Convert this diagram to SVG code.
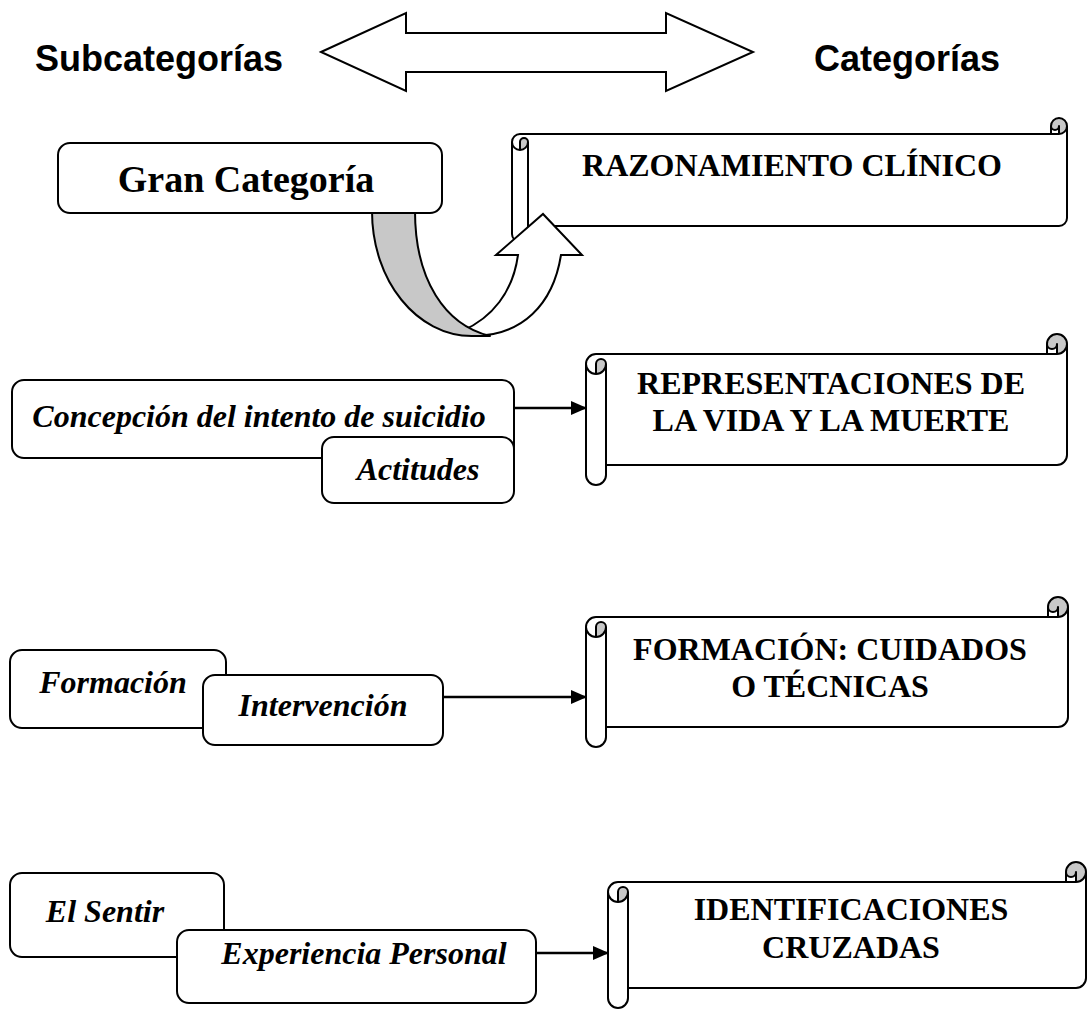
<svg xmlns="http://www.w3.org/2000/svg" width="1088" height="1010" viewBox="0 0 1088 1010">
<style>
.box{fill:#fff;stroke:#000;stroke-width:2}
.sfill{fill:#fff;stroke:none}
.sline{fill:none;stroke:#000;stroke-width:2;stroke-linejoin:round}
.dark{fill:#c8c8c8;stroke:none}
.cat{font-family:"Liberation Serif","Times New Roman",serif;font-weight:bold;font-size:32px;text-anchor:middle}
.sub{font-family:"Liberation Serif","Times New Roman",serif;font-weight:bold;font-style:italic;font-size:32px;text-anchor:middle}
.head{font-family:"Liberation Sans",Arial,sans-serif;font-weight:bold;font-size:36px}
.conn{stroke:#000;stroke-width:2.5;fill:none}
</style>
<defs>
<marker id="ah" markerUnits="userSpaceOnUse" markerWidth="16" markerHeight="14" refX="15" refY="7" orient="auto">
<path d="M0,0 L16,7 L0,14 Z" fill="#000"/>
</marker>
</defs>
<rect width="1088" height="1010" fill="#fff"/>

<g id="header">
<text class="head" x="35" y="71">Subcategorías</text>
<text class="head" x="814" y="71">Categorías</text>
<polygon class="box" points="321,52 406,13 406,33 666,33 666,13 753,52 666,91 666,72 406,72 406,91"/>
</g>

<g id="scroll-razonamiento">
<path class="sfill" d="M512,142 A8,8 0 0 1 520,134 L1051,134 L1051,126 A8,8 0 0 1 1067,126 L1067,218 A8,8 0 0 1 1059,226 L528,226 L528,234 A8,8 0 0 1 512,234 Z"/>
<path class="dark" d="M520,150 A8,8 0 0 0 528,142 A4,4 0 0 0 520,142 Z M1059,134 A8,8 0 1 0 1051,126 A4,4 0 0 0 1059,126 Z"/>
<path class="sline" d="M512,142 A8,8 0 0 1 520,134 L1051,134 L1051,126 A8,8 0 0 1 1067,126 L1067,218 A8,8 0 0 1 1059,226 L528,226 L528,234 A8,8 0 0 1 512,234 Z"/>
<path class="sline" d="M1051,134 L1059,134 A8,8 0 0 0 1067,126 M1059,134 L1059,126 A4,4 0 0 1 1051,126 M520,150 L520,142 A4,4 0 0 1 528,142 A8,8 0 0 1 512,142 M528,142 L528,226"/>
<text class="cat" x="792" y="176">RAZONAMIENTO CLÍNICO</text>
</g>

<g id="curved-arrow">
<path class="box" d="M462,331 C492,318 513,292 518,255 L496,255 L543,214 L582,255 L561,255 C553,305 522,336 472,336 Z"/>
<path d="M372,211 C372,281 417,336 472,336 L490,336 C445,325 415,280 415,211 Z" fill="#c8c8c8" stroke="#000" stroke-width="2" stroke-linejoin="round"/>
</g>

<g id="gran-categoria">
<rect class="box" x="58" y="143" width="384" height="70" rx="12"/>
<text class="cat" x="246" y="192" style="font-size:38px">Gran Categoría</text>
</g>

<g id="scroll-representaciones">
<path class="sfill" d="M586,364 A10,10 0 0 1 596,354 L1047,354 L1047,344 A10,10 0 0 1 1067,344 L1067,455 A10,10 0 0 1 1057,465 L606,465 L606,475 A10,10 0 0 1 586,475 Z"/>
<path class="dark" d="M596,374 A10,10 0 0 0 606,364 A5,5 0 0 0 596,364 Z M1057,354 A10,10 0 1 0 1047,344 A5,5 0 0 0 1057,344 Z"/>
<path class="sline" d="M586,364 A10,10 0 0 1 596,354 L1047,354 L1047,344 A10,10 0 0 1 1067,344 L1067,455 A10,10 0 0 1 1057,465 L606,465 L606,475 A10,10 0 0 1 586,475 Z"/>
<path class="sline" d="M1047,354 L1057,354 A10,10 0 0 0 1067,344 M1057,354 L1057,344 A5,5 0 0 1 1047,344 M596,374 L596,364 A5,5 0 0 1 606,364 A10,10 0 0 1 586,364 M606,364 L606,465"/>
<text class="cat" x="831" y="394">REPRESENTACIONES DE</text>
<text class="cat" x="831" y="431">LA VIDA Y LA MUERTE</text>
</g>

<g id="scroll-formacion">
<path class="sfill" d="M586,627 A10,10 0 0 1 596,617 L1048,617 L1048,607 A10,10 0 0 1 1068,607 L1068,717 A10,10 0 0 1 1058,727 L606,727 L606,737 A10,10 0 0 1 586,737 Z"/>
<path class="dark" d="M596,637 A10,10 0 0 0 606,627 A5,5 0 0 0 596,627 Z M1058,617 A10,10 0 1 0 1048,607 A5,5 0 0 0 1058,607 Z"/>
<path class="sline" d="M586,627 A10,10 0 0 1 596,617 L1048,617 L1048,607 A10,10 0 0 1 1068,607 L1068,717 A10,10 0 0 1 1058,727 L606,727 L606,737 A10,10 0 0 1 586,737 Z"/>
<path class="sline" d="M1048,617 L1058,617 A10,10 0 0 0 1068,607 M1058,617 L1058,607 A5,5 0 0 1 1048,607 M596,637 L596,627 A5,5 0 0 1 606,627 A10,10 0 0 1 586,627 M606,627 L606,727"/>
<text class="cat" x="830" y="660">FORMACIÓN: CUIDADOS</text>
<text class="cat" x="830" y="697">O TÉCNICAS</text>
</g>

<g id="scroll-identificaciones">
<path class="sfill" d="M608,892 A10,10 0 0 1 618,882 L1066,882 L1066,872 A10,10 0 0 1 1086,872 L1086,978 A10,10 0 0 1 1076,988 L628,988 L628,998 A10,10 0 0 1 608,998 Z"/>
<path class="dark" d="M618,902 A10,10 0 0 0 628,892 A5,5 0 0 0 618,892 Z M1076,882 A10,10 0 1 0 1066,872 A5,5 0 0 0 1076,872 Z"/>
<path class="sline" d="M608,892 A10,10 0 0 1 618,882 L1066,882 L1066,872 A10,10 0 0 1 1086,872 L1086,978 A10,10 0 0 1 1076,988 L628,988 L628,998 A10,10 0 0 1 608,998 Z"/>
<path class="sline" d="M1066,882 L1076,882 A10,10 0 0 0 1086,872 M1076,882 L1076,872 A5,5 0 0 1 1066,872 M618,902 L618,892 A5,5 0 0 1 628,892 A10,10 0 0 1 608,892 M628,892 L628,988"/>
<text class="cat" x="851" y="920">IDENTIFICACIONES</text>
<text class="cat" x="851" y="958">CRUZADAS</text>
</g>

<g id="concepcion">
<rect class="box" x="12" y="380" width="502" height="78" rx="12"/>
<text class="sub" x="259" y="427">Concepción del intento de suicidio</text>
</g>
<g id="actitudes">
<rect class="box" x="322" y="437" width="192" height="66" rx="12"/>
<text class="sub" x="418" y="480">Actitudes</text>
</g>

<g id="formacion">
<rect class="box" x="10" y="650" width="216" height="78" rx="12"/>
<text class="sub" x="113" y="693">Formación</text>
</g>
<g id="intervencion">
<rect class="box" x="203" y="675" width="240" height="70" rx="12"/>
<text class="sub" x="323" y="716">Intervención</text>
</g>

<g id="el-sentir">
<rect class="box" x="10" y="873" width="214" height="84" rx="12"/>
<text class="sub" x="105" y="922">El Sentir</text>
</g>
<g id="experiencia">
<rect class="box" x="177" y="930" width="359" height="73" rx="12"/>
<text class="sub" x="364" y="964">Experiencia Personal</text>
</g>

<g id="connectors">
<line class="conn" x1="514" y1="408" x2="586" y2="408" marker-end="url(#ah)"/>
<line class="conn" x1="443" y1="697" x2="586" y2="697" marker-end="url(#ah)"/>
<line class="conn" x1="536" y1="953" x2="608" y2="953" marker-end="url(#ah)"/>
</g>
</svg>
